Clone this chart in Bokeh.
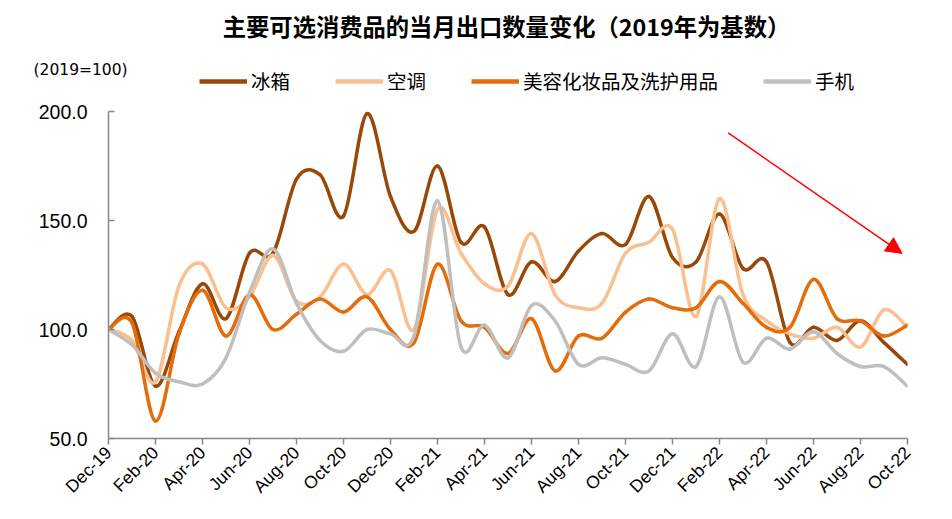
import math
from bokeh.plotting import figure
from bokeh.layouts import column
from bokeh.embed import file_html
from bokeh.resources import INLINE
from bokeh.models import (Range1d, FixedTicker, PrintfTickFormatter, Label, Legend,
                          LegendItem, Arrow, NormalHead, ColumnDataSource)

months = ["Dec-19", "Jan-20", "Feb-20", "Mar-20", "Apr-20", "May-20", "Jun-20", "Jul-20",
          "Aug-20", "Sep-20", "Oct-20", "Nov-20", "Dec-20", "Jan-21", "Feb-21", "Mar-21",
          "Apr-21", "May-21", "Jun-21", "Jul-21", "Aug-21", "Sep-21", "Oct-21", "Nov-21",
          "Dec-21", "Jan-22", "Feb-22", "Mar-22", "Apr-22", "May-22", "Jun-22", "Jul-22",
          "Aug-22", "Sep-22", "Oct-22"]

fridge = [100, 106, 74, 99, 121, 105, 135, 135, 169, 171, 152, 199, 161, 145, 175, 140,
          147, 116, 131, 122, 136, 144, 139, 161, 133, 131, 153, 128, 131, 94, 101, 95,
          104, 94, 84]
aircon = [100, 95, 76, 120, 130, 110, 115, 134, 113, 115, 130, 116, 127, 100, 155, 135,
          121, 120, 144, 116, 110, 112, 135, 140, 146, 106, 160, 116, 104, 98, 96, 101,
          92, 109, 101]
cosmetics = [100, 103, 58, 98, 118, 97, 116, 100, 107, 114, 108, 115, 100, 94, 130, 104,
             101, 89, 105, 81, 97, 96, 108, 114, 110, 110, 122, 112, 101, 101, 123, 105,
             104, 97, 102]
phone = [100, 93, 80, 76, 75, 87, 117, 137, 112, 95, 90, 100, 98, 97, 159, 92,
         102, 87, 111, 104, 84, 87, 84, 81, 98, 83, 115, 85, 96, 91, 99, 89,
         83, 83, 74]

series_names = ["冰箱", "空调", "美容化妆品及洗护用品", "手机"]
series_values = [fridge, aircon, cosmetics, phone]
colors = ["#984807", "#FAC090", "#E46C0A", "#BFBFBF"]

y_ticks = [50, 100, 150, 200]

FONT = "Liberation Sans"
CJK = "Noto Sans CJK SC"
W = 944
HEAD_H = 97

# ---------- header (title, unit, legend) ----------
head = figure(width=W, height=HEAD_H, x_range=Range1d(0, W), y_range=Range1d(0, HEAD_H),
              output_backend="svg", toolbar_location=None, min_border=0)
head.frame_align = False
head.axis.visible = False
head.grid.visible = False
head.outline_line_color = None

head.add_layout(Label(x=506, y=HEAD_H - 25,
                      text="主要可选消费品的当月出口数量变化（2019年为基数）",
                      text_font=CJK, text_font_size="23.3px", text_font_style="bold",
                      text_align="center", text_baseline="middle", text_color="#000000"))
head.add_layout(Label(x=33, y=HEAD_H - 69,
                      text="(2019=100)", text_font="DejaVu Sans", text_font_size="15.5px",
                      text_align="left", text_baseline="middle", text_color="#000000"))

items = []
for name, c in zip(series_names, colors):
    dummy = head.line([-20, -10], [-20, -20], line_color=c, line_width=4.5)
    items.append(LegendItem(label=name, renderers=[dummy]))
legend = Legend(items=items, orientation="horizontal", location=(199, 2),
                border_line_color=None, background_fill_alpha=0,
                glyph_width=48, glyph_height=20, label_standoff=4, spacing=45,
                padding=0, margin=0, label_text_font=CJK, label_text_font_size="19.5px",
                label_text_color="#000000")
head.add_layout(legend, "center")

# ---------- main chart ----------
p = figure(width=W, height=417, x_range=Range1d(0, len(months) - 1), y_range=Range1d(50, 200),
           output_backend="svg", toolbar_location=None,
           min_border_left=108, min_border_right=37, min_border_top=14, min_border_bottom=76)
p.frame_align = False
p.xgrid.visible = False
p.ygrid.visible = False
p.outline_line_color = None


def bezier_source(y):
    n = len(y)
    x = list(range(n))
    d = dict(x0=[], y0=[], x1=[], y1=[], cx0=[], cy0=[], cx1=[], cy1=[])
    for i in range(n - 1):
        pm = i - 1 if i > 0 else i
        pp = i + 2 if i + 2 < n else i + 1
        d["x0"].append(x[i]); d["y0"].append(y[i])
        d["x1"].append(x[i + 1]); d["y1"].append(y[i + 1])
        d["cx0"].append(x[i] + (x[i + 1] - x[pm]) / 6)
        d["cy0"].append(y[i] + (y[i + 1] - y[pm]) / 6)
        d["cx1"].append(x[i + 1] - (x[pp] - x[i]) / 6)
        d["cy1"].append(y[i + 1] - (y[pp] - y[i]) / 6)
    return ColumnDataSource(d)


for vals, c in zip(series_values, colors):
    p.bezier(x0="x0", y0="y0", x1="x1", y1="y1", cx0="cx0", cy0="cy0", cx1="cx1", cy1="cy1",
             source=bezier_source(vals), line_color=c, line_width=3.5, line_cap="round")

xa = p.xaxis[0]
xa.ticker = FixedTicker(ticks=list(range(0, len(months), 2)))
xa.major_label_overrides = {i: months[i] for i in range(0, len(months), 2)}
xa.major_label_orientation = math.pi / 4
xa.major_label_text_font = FONT
xa.major_label_text_font_size = "17.5px"
xa.major_label_text_color = "#000000"
xa.axis_line_color = "#888888"
xa.axis_line_width = 1.5
xa.major_tick_line_color = "#888888"
xa.major_tick_line_width = 1.5
xa.major_tick_in = 0
xa.major_tick_out = 6
xa.minor_tick_line_color = None

ya = p.yaxis[0]
ya.ticker = FixedTicker(ticks=y_ticks)
ya.formatter = PrintfTickFormatter(format="%.1f")
ya.major_label_text_font = FONT
ya.major_label_text_font_size = "19.5px"
ya.major_label_text_color = "#000000"
ya.axis_line_color = "#888888"
ya.axis_line_width = 1.5
ya.major_tick_line_color = "#888888"
ya.major_tick_line_width = 1.5
ya.major_tick_in = 6
ya.major_tick_out = 0
ya.major_label_standoff = 21
ya.minor_tick_line_color = None

p.add_layout(Arrow(end=NormalHead(size=16, fill_color="red", line_color="red"),
                   x_start=26.37, y_start=190.2, x_end=33.77, y_end=134.9,
                   line_color="red", line_width=1.5))

layout = column(head, p, spacing=0)
open("out.html", "w").write(file_html(layout, INLINE))
